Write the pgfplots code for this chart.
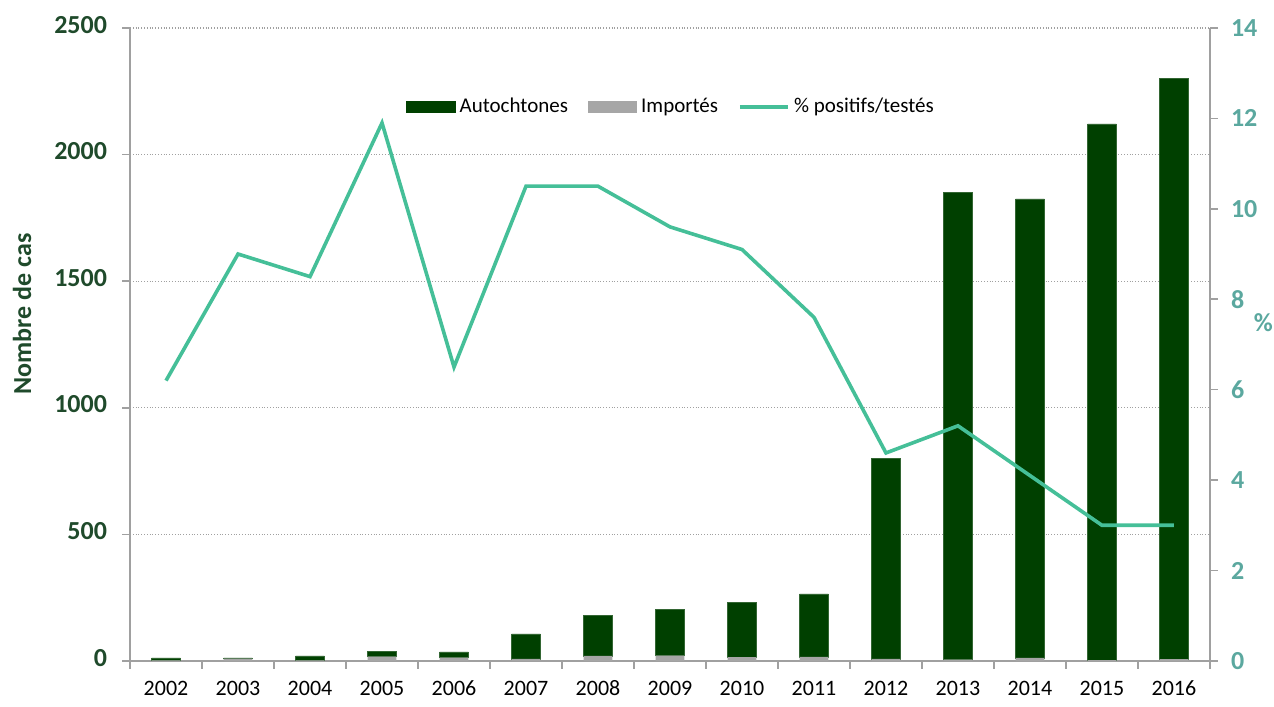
\documentclass[border=0pt]{standalone}
\usepackage{pgfplots}
\pgfplotsset{compat=1.18}
\usepackage{fontspec}
\setmainfont{Carlito}
\definecolor{bargreen}{HTML}{004000}
\definecolor{bargray}{HTML}{A6A6A6}
\definecolor{linecol}{HTML}{45BF98}
\definecolor{leftcol}{HTML}{1F4A2B}
\definecolor{rightcol}{HTML}{5BA89F}
\definecolor{axgray}{HTML}{A0A0A0}
\pgfplotsset{
  greenleg/.style={legend image code/.code={\fill[bargreen] (0cm,-0.1cm) rectangle (0.85cm,0.1cm);}},
  grayleg/.style={legend image code/.code={\fill[bargray] (0cm,-0.1cm) rectangle (0.85cm,0.1cm);}},
  lineleg/.style={legend image code/.code={\draw[linecol, line width=1.8pt] (0cm,0cm) -- (0.85cm,0cm);}},
}
\begin{document}
\begin{tikzpicture}
\begin{axis}[
  scale only axis, width=540pt, height=316.5pt,
  xmin=-0.5, xmax=14.5, ymin=0, ymax=2500,
  ybar stacked, bar width=0.4,
  axis y line*=left, axis x line*=bottom,
  axis line style={axgray, line width=0.8pt, -},
  xtick={-0.5,0.5,1.5,2.5,3.5,4.5,5.5,6.5,7.5,8.5,9.5,10.5,11.5,12.5,13.5,14.5},
  x tick label as interval,
  xticklabels={2002,2003,2004,2005,2006,2007,2008,2009,2010,2011,2012,2013,2014,2015,2016},
  xticklabel style={font=\fontsize{11}{11}\selectfont, text=black, yshift=-2pt},
  typeset ticklabels with strut,
  ytick={0,500,...,2500},
  yticklabel style={font=\bfseries\fontsize{13}{13}\selectfont, text=leftcol, xshift=-4pt},
  /pgf/number format/assume math mode=true,
  /pgf/number format/1000 sep={},
  tick align=outside, major tick length=4pt,
  tick style={axgray, line width=0.8pt},
  ymajorgrids, grid style={densely dotted, axgray, line width=0.6pt},
  ylabel={Nombre de cas},
  ylabel style={font=\bfseries\fontsize{13}{13}\selectfont, text=leftcol, at={(axis description cs:-0.1,0.548)}, anchor=center},
  clip=false,
]
\addplot[fill=bargray, draw=none] coordinates {
(0,2) (1,9) (2,2) (3,17) (4,13) (5,8) (6,20) (7,21) (8,15) (9,16) (10,8) (11,5) (12,12) (13,3) (14,7)};
\addplot[fill=bargreen, draw=bargreen!80!white, line width=0.3pt] coordinates {
(0,10) (1,3) (2,18) (3,21) (4,23) (5,99) (6,159) (7,184) (8,215) (9,249) (10,792) (11,1847) (12,1813) (13,2118) (14,2295)};
\coordinate (bl) at (rel axis cs:-0.1204,-0.0727);
\coordinate (tr) at (rel axis cs:1.0593,1.0442);
\end{axis}
\begin{axis}[
  scale only axis, width=540pt, height=316.5pt,
  xmin=-0.5, xmax=14.5, ymin=0, ymax=14,
  axis y line*=right, axis x line=none,
  axis line style={axgray, line width=0.8pt, -},
  ytick={0,2,...,14},
  yticklabel style={font=\bfseries\fontsize{13}{13}\selectfont, text=rightcol, xshift=3pt},
  /pgf/number format/assume math mode=true,
  tick align=outside, major tick length=4pt,
  tick style={axgray, line width=0.8pt},
  ylabel={\%},
  ylabel style={font=\bfseries\fontsize{13}{13}\selectfont, text=rightcol, at={(axis description cs:1.0495,0.535)}, anchor=center, rotate=-90},
  legend style={at={(0.502,0.875)}, anchor=center, draw=none, fill=none,
    legend columns=3, font=\fontsize{10.5}{10.5}\selectfont,
    /tikz/every even column/.append style={column sep=8pt}},
  clip=false,
]
\addlegendimage{greenleg}
\addlegendentry{Autochtones}
\addlegendimage{grayleg}
\addlegendentry{Importés}
\addlegendimage{lineleg}
\addlegendentry{\% positifs/testés}
\addplot[linecol, line width=1.8pt, mark=none, forget plot] coordinates {
(0,6.2) (1,9.0) (2,8.5) (3,11.9) (4,6.5) (5,10.5) (6,10.5) (7,9.6) (8,9.1) (9,7.6) (10,4.6) (11,5.2) (12,4.1) (13,3.0) (14,3.0)};
\end{axis}
\pgfresetboundingbox
\path[use as bounding box] (bl) rectangle (tr);
\end{tikzpicture}
\end{document}
